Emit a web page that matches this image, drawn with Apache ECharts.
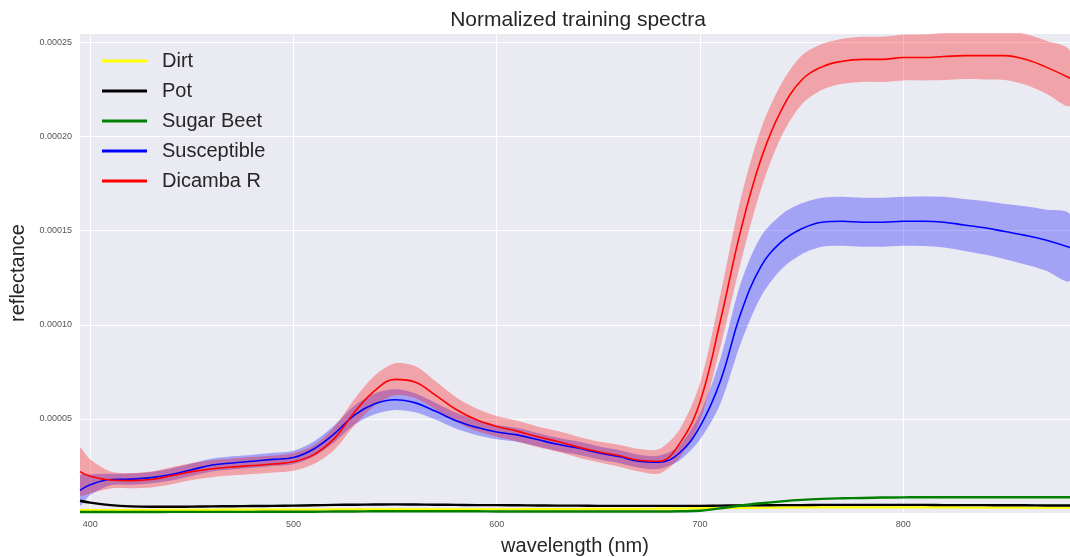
<!DOCTYPE html>
<html>
<head>
<meta charset="utf-8">
<title>Normalized training spectra</title>
<script src="https://cdn.jsdelivr.net/npm/echarts@6/dist/echarts.min.js"></script>
<style>
  html, body { margin: 0; padding: 0; background: #fff; }
  #spectraChart { width: 1070px; height: 557px; }
</style>
</head>
<body>
<div id="spectraChart"></div>
<script>
// wavelength samples (nm)
var wavelengths = [395, 400, 410, 420, 430, 440, 450, 460, 470, 480, 490, 500, 510, 520, 530, 540, 550, 560, 570, 580,
  590, 600, 610, 620, 630, 640, 650, 660, 670, 680, 690, 700, 710, 720, 730, 740, 750, 760, 770, 780,
  790, 800, 810, 820, 830, 840, 850, 860, 870, 882];

// values below are in units of 1e-5 reflectance
var SCALE = 1e-5;

var dirtMean = [0.15, 0.15, 0.16, 0.16, 0.16, 0.17, 0.17, 0.17, 0.18, 0.18, 0.18, 0.18, 0.18, 0.19, 0.19, 0.19, 0.2, 0.2, 0.2, 0.2,
  0.2, 0.2, 0.2, 0.21, 0.21, 0.21, 0.22, 0.22, 0.22, 0.23, 0.24, 0.25, 0.26, 0.27, 0.28, 0.29, 0.3, 0.3, 0.3, 0.3,
  0.3, 0.3, 0.3, 0.3, 0.29, 0.29, 0.29, 0.28, 0.28, 0.28];

var potMean = [0.65, 0.55, 0.42, 0.35, 0.33, 0.33, 0.34, 0.35, 0.36, 0.37, 0.38, 0.39, 0.41, 0.43, 0.44, 0.45, 0.46, 0.45, 0.44, 0.43,
  0.42, 0.42, 0.41, 0.4, 0.39, 0.39, 0.38, 0.38, 0.38, 0.38, 0.38, 0.38, 0.39, 0.4, 0.41, 0.42, 0.42, 0.43, 0.43, 0.43,
  0.43, 0.43, 0.43, 0.42, 0.42, 0.42, 0.41, 0.41, 0.4, 0.4];

var beetMean = [0.05, 0.05, 0.05, 0.05, 0.05, 0.06, 0.06, 0.06, 0.06, 0.06, 0.07, 0.07, 0.07, 0.08, 0.08, 0.09, 0.09, 0.09, 0.09, 0.09,
  0.09, 0.08, 0.08, 0.08, 0.08, 0.08, 0.08, 0.08, 0.08, 0.08, 0.09, 0.12, 0.25, 0.4, 0.52, 0.62, 0.7, 0.75, 0.78, 0.8,
  0.82, 0.83, 0.84, 0.84, 0.84, 0.84, 0.84, 0.84, 0.84, 0.84];

var susceptibleMean = [1.2, 1.5, 1.78, 1.8, 1.88, 2.05, 2.3, 2.55, 2.66, 2.75, 2.85, 2.95, 3.4, 4.2, 5.2, 5.8, 6.02, 5.85, 5.4, 4.9,
  4.55, 4.3, 4.15, 3.9, 3.65, 3.45, 3.2, 3.0, 2.75, 2.7, 3.2, 4.6, 7.0, 10.6, 13.1, 14.4, 15.1, 15.45, 15.5, 15.45,
  15.45, 15.5, 15.5, 15.45, 15.3, 15.15, 14.95, 14.75, 14.5, 14.1];

var susceptibleStd = [0.8, 0.55, 0.3, 0.3, 0.3, 0.32, 0.33, 0.34, 0.35, 0.35, 0.35, 0.36, 0.4, 0.45, 0.5, 0.55, 0.55, 0.5, 0.45, 0.42,
  0.4, 0.38, 0.36, 0.35, 0.35, 0.35, 0.35, 0.35, 0.35, 0.35, 0.4, 0.7, 1.2, 1.6, 1.6, 1.45, 1.35, 1.3, 1.3, 1.3,
  1.3, 1.3, 1.32, 1.35, 1.38, 1.42, 1.47, 1.55, 1.62, 1.75];

var dicambaMean = [2.2, 1.95, 1.75, 1.72, 1.78, 1.98, 2.2, 2.35, 2.45, 2.52, 2.6, 2.72, 3.1, 3.95, 5.35, 6.5, 7.1, 6.95, 6.25, 5.5,
  4.95, 4.6, 4.35, 4.05, 3.8, 3.5, 3.25, 3.05, 2.8, 2.75, 3.7, 5.9, 10.2, 15.0, 18.8, 21.4, 23.0, 23.7, 24.0, 24.1,
  24.1, 24.2, 24.2, 24.25, 24.3, 24.3, 24.3, 24.1, 23.7, 23.1];

var dicambaStd = [1.25, 0.9, 0.45, 0.4, 0.42, 0.45, 0.45, 0.45, 0.45, 0.45, 0.45, 0.47, 0.5, 0.6, 0.7, 0.8, 0.85, 0.85, 0.75, 0.65,
  0.6, 0.55, 0.55, 0.55, 0.55, 0.55, 0.55, 0.58, 0.6, 0.65, 0.75, 1.0, 1.4, 1.7, 1.6, 1.4, 1.3, 1.22, 1.2, 1.2,
  1.2, 1.22, 1.22, 1.25, 1.25, 1.27, 1.3, 1.35, 1.4, 1.45];

var xTicks = [400, 500, 600, 700, 800];
var legendNames = ['Dirt', 'Pot', 'Sugar Beet', 'Susceptible', 'Dicamba R'];

var FONT = '"Liberation Sans", Arial, sans-serif';

function pairs(mean) {
  return wavelengths.map(function (w, i) {
    return [w, mean[i] * SCALE];
  });
}

function lineSeries(name, mean, color, width) {
  return {
    name: name,
    type: 'line',
    data: pairs(mean),
    symbol: 'none',
    smooth: 0.4,
    lineStyle: { color: color, width: width },
    itemStyle: { color: color },
    z: 3
  };
}

// mean +/- std band, drawn as one polygon through the axis scales
function bandSeries(mean, std, fill) {
  return {
    type: 'custom',
    data: [0],
    clip: true,
    silent: true,
    z: 2,
    renderItem: function (params, api) {
      var pts = [];
      for (var i = 0; i < wavelengths.length; i++) {
        pts.push(api.coord([wavelengths[i], (mean[i] + std[i]) * SCALE]));
      }
      for (var j = wavelengths.length - 1; j >= 0; j--) {
        pts.push(api.coord([wavelengths[j], (mean[j] - std[j]) * SCALE]));
      }
      return {
        type: 'polygon',
        shape: { points: pts, smooth: 0.3 },
        style: { fill: fill }
      };
    }
  };
}

var chart = echarts.init(document.getElementById('spectraChart'));

chart.setOption({
  backgroundColor: '#ffffff',
  animation: false,
  title: {
    text: 'Normalized training spectra',
    left: 573,
    top: 5,
    textAlign: 'center',
    textStyle: { fontFamily: FONT, fontSize: 21, fontWeight: 'normal', color: '#262626' }
  },
  legend: {
    data: legendNames,
    orient: 'vertical',
    left: 97,
    top: 46,
    itemWidth: 45,
    itemHeight: 20,
    itemGap: 10,
    icon: 'path://M0,8.5 L45,8.5 L45,11.5 L0,11.5 Z',
    textStyle: { fontFamily: FONT, fontSize: 20, color: '#262626', padding: [0, 0, 0, 10] }
  },
  grid: {
    left: 80,
    right: 0,
    top: 33,
    bottom: 44,
    outerBoundsMode: 'none',
    show: true,
    backgroundColor: '#EAEAF2',
    borderWidth: 0
  },
  xAxis: {
    type: 'value',
    min: 395,
    max: 882,
    name: 'wavelength (nm)',
    nameLocation: 'middle',
    nameGap: 23,
    nameTextStyle: { fontFamily: FONT, fontSize: 20, color: '#262626' },
    axisLine: { show: false },
    axisTick: { show: false, customValues: xTicks },
    axisLabel: {
      customValues: xTicks,
      margin: 7,
      fontFamily: FONT,
      fontSize: 9,
      color: '#555'
    },
    splitLine: { show: true, lineStyle: { color: '#ffffff', width: 1 } }
  },
  yAxis: {
    type: 'value',
    min: 0,
    max: 0.000255,
    interval: 0.00005,
    name: 'reflectance',
    nameLocation: 'middle',
    nameGap: 52,
    nameRotate: 90,
    nameTextStyle: { fontFamily: FONT, fontSize: 20, color: '#262626' },
    axisLine: { show: false },
    axisTick: { show: false },
    axisLabel: {
      showMaxLabel: false,
      margin: 8,
      fontFamily: FONT,
      fontSize: 9,
      color: '#555',
      formatter: function (v) {
        return v === 0 ? '' : v.toFixed(5);
      }
    },
    splitLine: { show: true, lineStyle: { color: '#ffffff', width: 1 } }
  },
  series: [
    lineSeries('Dirt', dirtMean, '#FFFF00', 2.2),
    lineSeries('Pot', potMean, '#000000', 2.4),
    lineSeries('Sugar Beet', beetMean, '#008000', 2.4),
    bandSeries(susceptibleMean, susceptibleStd, 'rgba(0,0,255,0.3)'),
    lineSeries('Susceptible', susceptibleMean, '#0000FF', 1.6),
    bandSeries(dicambaMean, dicambaStd, 'rgba(255,0,0,0.3)'),
    lineSeries('Dicamba R', dicambaMean, '#FF0000', 1.6)
  ]
});
</script>
</body>
</html>
